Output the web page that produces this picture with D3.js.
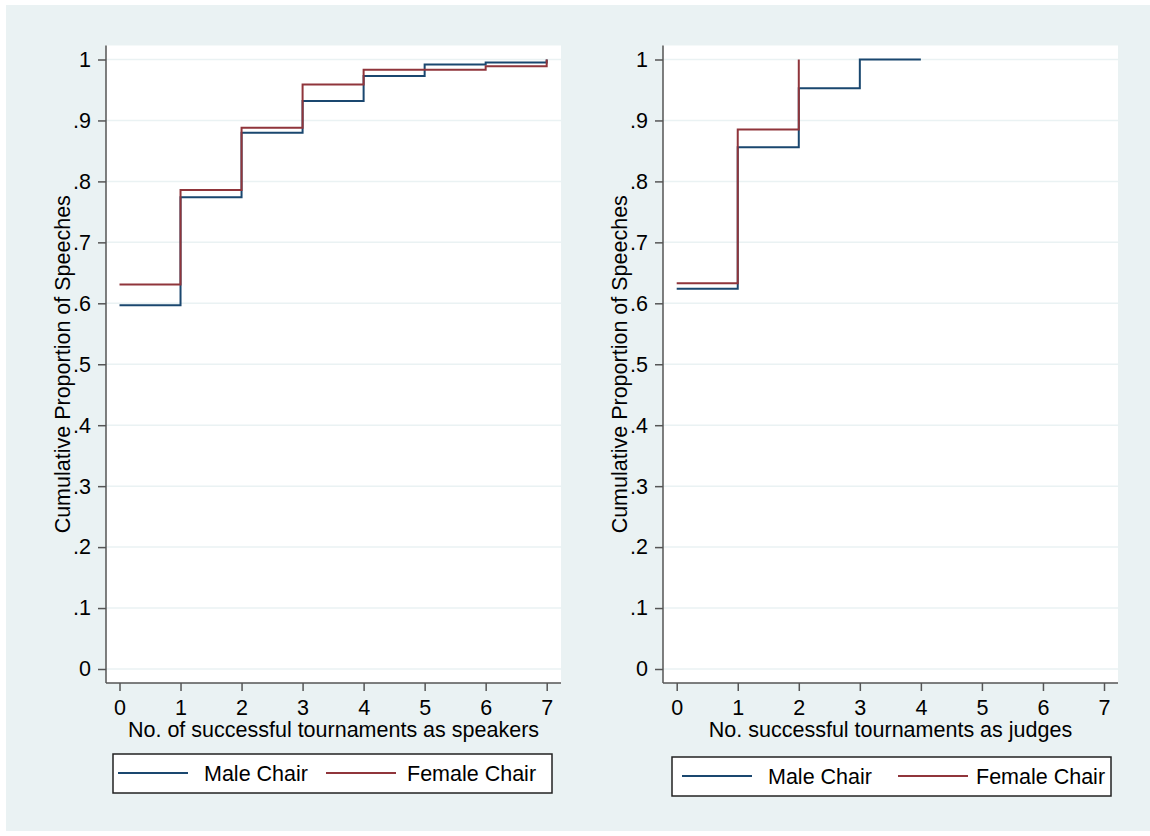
<!DOCTYPE html>
<html>
<head>
<meta charset="utf-8">
<script src="https://cdn.jsdelivr.net/npm/d3@7"></script>
<style>
  body { margin: 0; background: #fff; }
  text { font-family: "Liberation Sans", Arial, sans-serif; fill: #000; }
</style>
</head>
<body>
<svg id="chart" width="1150" height="836"></svg>
<script>
// data
var xTicks = [0, 1, 2, 3, 4, 5, 6, 7];
var yTicks = [0, .1, .2, .3, .4, .5, .6, .7, .8, .9, 1];
var seriesNames = ["Male Chair", "Female Chair"];

var speakersX      = [0, 1, 2, 3, 4, 5, 6, 7];
var speakersMale   = [0.597, 0.774, 0.880, 0.932, 0.973, 0.992, 0.995, 1];
var speakersFemale = [0.631, 0.786, 0.888, 0.959, 0.983, 0.983, 0.989, 1];

var judgesMaleX    = [0, 1, 2, 3, 4];
var judgesMale     = [0.624, 0.856, 0.953, 1, 1];
var judgesFemaleX  = [0, 1, 2];
var judgesFemale   = [0.633, 0.885, 1];

var colors = ["#1a476f", "#90353b"];
var fontSize = "21.5px";

var svg = d3.select("#chart");

// graph region
svg.append("rect")
   .attr("x", 6).attr("y", 5)
   .attr("width", 1144).attr("height", 826)
   .attr("fill", "#eaf2f3");

var panels = [
  { left: 106, right: 561, x0: 119.5, x1: 546.7,
    title: "No. of successful tournaments as speakers",
    series: [
      { x: speakersX, y: speakersMale },
      { x: speakersX, y: speakersFemale }
    ],
    legend: { x: 113, y: 754, keys: [5, 213], texts: [91, 294] } },
  { left: 663, right: 1118, x0: 676.7, x1: 1104,
    title: "No. successful tournaments as judges",
    series: [
      { x: judgesMaleX, y: judgesMale },
      { x: judgesFemaleX, y: judgesFemale }
    ],
    legend: { x: 672, y: 757, keys: [10, 226], texts: [96, 304] } }
];

var plotTop = 45.5, plotBottom = 683;

function fmt(d) {
  if (d === 0) return "0";
  if (d === 1) return "1";
  return "." + Math.round(d * 10);
}

panels.forEach(function(p) {
  var x = d3.scaleLinear().domain([0, 7]).range([p.x0, p.x1]);
  var y = d3.scaleLinear().domain([0, 1]).range([669, 59.5]);

  // plot region
  svg.append("rect")
     .attr("x", p.left).attr("y", plotTop)
     .attr("width", p.right - p.left).attr("height", plotBottom - plotTop)
     .attr("fill", "#fff");

  // grid
  svg.append("g").selectAll("line")
     .data(yTicks)
     .enter()
     .append("line")
     .attr("x1", p.left).attr("x2", p.right)
     .attr("y1", function(d) { return y(d) })
     .attr("y2", function(d) { return y(d) })
     .attr("stroke", "#eaf2f3")
     .attr("stroke-width", 1.5);

  // y axis
  var gy = svg.append("g")
     .attr("transform", "translate(" + p.left + ",0)")
     .call(d3.axisLeft(y).tickValues(yTicks).tickFormat(fmt)
             .tickSize(8).tickSizeOuter(0).tickPadding(7));
  gy.select(".domain").remove();
  gy.append("line")
    .attr("x1", 0).attr("x2", 0)
    .attr("y1", plotTop).attr("y2", plotBottom)
    .attr("stroke", "#555").attr("stroke-width", 1.5);

  // x axis
  var gx = svg.append("g")
     .attr("transform", "translate(0," + plotBottom + ")")
     .call(d3.axisBottom(x).tickValues(xTicks).tickFormat(d3.format("d"))
             .tickSize(8).tickSizeOuter(0).tickPadding(9));
  gx.select(".domain").remove();
  gx.append("line")
    .attr("x1", p.left).attr("x2", p.right)
    .attr("y1", 0).attr("y2", 0)
    .attr("stroke", "#555").attr("stroke-width", 1.5);

  [gx, gy].forEach(function(g) {
    g.selectAll(".tick line").attr("stroke", "#555").attr("stroke-width", 1.5);
    g.selectAll(".tick text")
     .style("font-family", "'Liberation Sans', Arial, sans-serif")
     .style("font-size", fontSize)
     .attr("fill", "#000");
  });

  // axis titles
  svg.append("text")
     .attr("x", (p.left + p.right) / 2)
     .attr("y", 737)
     .attr("text-anchor", "middle")
     .style("font-size", fontSize)
     .text(p.title);

  svg.append("text")
     .attr("transform", "translate(" + (p.left - 36.5) + "," + ((plotTop + plotBottom) / 2) + ") rotate(-90)")
     .attr("text-anchor", "middle")
     .style("font-size", fontSize)
     .text("Cumulative Proportion of Speeches");

  // step lines
  var line = d3.line()
     .x(function(d) { return x(d[0]) })
     .y(function(d) { return y(d[1]) })
     .curve(d3.curveStepAfter);

  p.series.forEach(function(s, i) {
    svg.append("path")
       .datum(d3.zip(s.x, s.y))
       .attr("d", line)
       .attr("fill", "none")
       .attr("stroke", colors[i])
       .attr("stroke-width", 2);
  });

  // legend
  var lg = svg.append("g").attr("transform", "translate(" + p.legend.x + "," + p.legend.y + ")");
  lg.append("rect")
    .attr("width", 439).attr("height", 39)
    .attr("fill", "#fff")
    .attr("stroke", "#222").attr("stroke-width", 1.5);

  seriesNames.forEach(function(name, i) {
    lg.append("line")
      .attr("x1", p.legend.keys[i]).attr("x2", p.legend.keys[i] + 70)
      .attr("y1", 19).attr("y2", 19)
      .attr("stroke", colors[i]).attr("stroke-width", 2);
    lg.append("text")
      .attr("x", p.legend.texts[i])
      .attr("y", 19)
      .attr("dy", "0.36em")
      .style("font-size", fontSize)
      .text(name);
  });
});
</script>
</body>
</html>
